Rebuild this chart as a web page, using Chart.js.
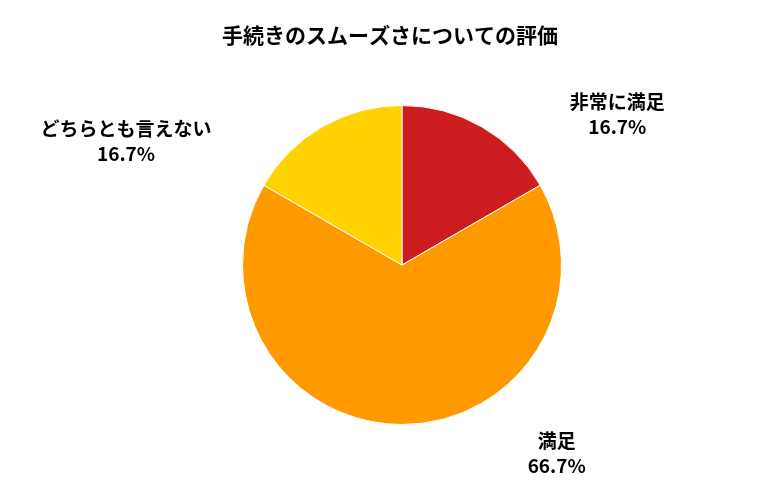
<!DOCTYPE html>
<html lang="ja">
<head>
<meta charset="UTF-8">
<script src="https://cdn.jsdelivr.net/npm/chart.js"></script>
<style>
  html, body { margin: 0; padding: 0; background: #fff; }
  #wrap { width: 780px; height: 500px; }
</style>
</head>
<body>
<div id="wrap"><canvas id="chart"></canvas></div>
<script>
const titleText = '手続きのスムーズさについての評価';
const categories = ['非常に満足', '満足', 'どちらとも言えない'];
const values = [1, 4, 1];
const colors = ['#CC1C1F', '#FF9900', '#FFD200'];
// label offsets from pie centre, in radius units
const labelOffsets = [[1.35, -0.95], [0.97, 1.18], [-1.73, -0.78]];

const FONT = '"Noto Sans CJK JP", "Noto Sans", sans-serif';

const labelPlugin = {
  id: 'outLabels',
  afterDraw(chart) {
    const ctx = chart.ctx;
    ctx.save();
    ctx.fillStyle = '#000';
    ctx.textAlign = 'center';
    ctx.textBaseline = 'middle';
    ctx.font = 'bold 21px ' + FONT;
    ctx.fillText(titleText, chart.width / 2, 35);
    const arcs = chart.getDatasetMeta(0).data;
    const total = values.reduce((a, b) => a + b, 0);
    ctx.font = 'bold 19px ' + FONT;
    arcs.forEach((arc, i) => {
      const x = arc.x + labelOffsets[i][0] * arc.outerRadius;
      const y = arc.y + labelOffsets[i][1] * arc.outerRadius;
      const pct = (values[i] / total * 100).toFixed(1) + '%';
      ctx.fillText(categories[i], x, y - 12);
      ctx.fillText(pct, x, y + 13);
    });
    ctx.restore();
  }
};

new Chart(document.getElementById('chart'), {
  type: 'pie',
  data: {
    labels: categories,
    datasets: [{ data: values, backgroundColor: colors, borderColor: '#fff', borderWidth: 1 }]
  },
  options: {
    responsive: true,
    maintainAspectRatio: false,
    animation: false,
    layout: { padding: { top: 105, bottom: 75, left: 92, right: 68 } },
    plugins: { legend: { display: false }, title: { display: false }, tooltip: { enabled: false } }
  },
  plugins: [labelPlugin]
});
</script>
</body>
</html>
